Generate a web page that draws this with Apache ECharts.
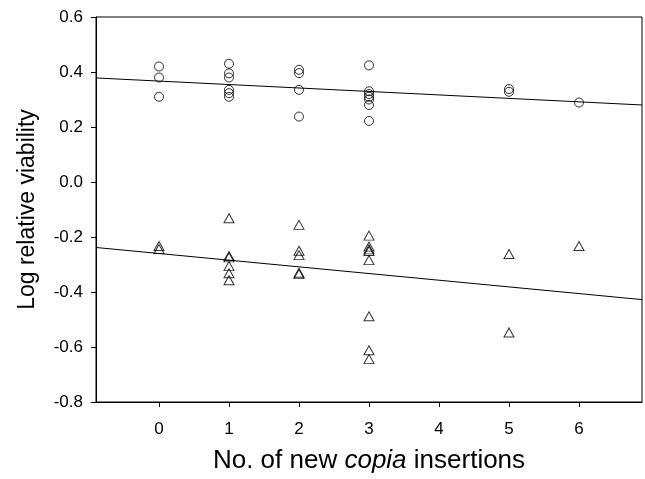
<!DOCTYPE html>
<html>
<head>
<meta charset="utf-8">
<script src="https://cdn.jsdelivr.net/npm/echarts@6/dist/echarts.min.js"></script>
<style>
html,body{margin:0;padding:0;background:#fff;}
#c{width:645px;height:479px;}
</style>
</head>
<body>
<div id="c"></div>
<script>
// Circles (upper group)
var circleX = [0,0,0, 1,1,1,1,1,1, 2,2,2,2, 3,3,3,3,3,3,3, 5,5, 6];
var circleY = [0.42,0.38,0.31, 0.43,0.395,0.38,0.335,0.323,0.31, 0.408,0.396,0.335,0.238, 0.424,0.33,0.32,0.31,0.30,0.28,0.222, 0.338,0.328, 0.289];
// Triangles (lower group)
var triX = [0,0, 1,1,1,1,1,1, 2,2,2,2,2, 3,3,3,3,3,3,3,3, 5,5, 6];
var triY = [-0.233,-0.244, -0.132,-0.269,-0.274,-0.306,-0.332,-0.357, -0.156,-0.25,-0.266,-0.33,-0.335, -0.195,-0.235,-0.245,-0.251,-0.284,-0.488,-0.612,-0.644, -0.262,-0.547, -0.233];
// Regression lines: [intercept, slope]
var circleFit = [0.367, -0.0126];
var triFit = [-0.260, -0.0243];
// Axes
var xRange = [-0.9, 6.9];
var xTicks = [0,1,2,3,4,5,6];
var yRange = [-0.8, 0.6];
var yStep = 0.2;

function pairs(xs, ys){ return xs.map(function(x,i){ return [x, ys[i]]; }); }
function fitLine(f){ return xRange.map(function(x){ return [x, f[0] + f[1]*x]; }); }

var font = 'Liberation Sans, Arial, sans-serif';
var chart = echarts.init(document.getElementById('c'), null, {renderer:'canvas'});
chart.setOption({
  backgroundColor:'#fff',
  animation:false,
  grid:{left:96, right:3, top:17, bottom:77, show:true, borderColor:'#000', borderWidth:1, backgroundColor:'transparent'},
  xAxis:{
    type:'value', min:xRange[0], max:xRange[1],
    axisLine:{show:true, onZero:false, lineStyle:{color:'#000', width:1}},
    axisTick:{show:true, inside:false, length:5, customValues:xTicks, lineStyle:{color:'#000'}},
    axisLabel:{customValues:xTicks, color:'#000', fontSize:17, fontFamily:font, margin:19},
    splitLine:{show:false},
    name:'{a|No. of new }{b|copia}{a| insertions}',
    nameLocation:'middle', nameGap:46,
    nameTextStyle:{rich:{a:{fontSize:26, fontFamily:font, color:'#000'}, b:{fontSize:26, fontFamily:font, fontStyle:'italic', color:'#000'}}}
  },
  yAxis:{
    type:'value', min:yRange[0], max:yRange[1], interval:yStep,
    axisLine:{show:true, onZero:false, lineStyle:{color:'#000', width:1}},
    axisTick:{show:true, inside:false, length:5, lineStyle:{color:'#000'}},
    axisLabel:{color:'#000', fontSize:17, fontFamily:font, margin:13, formatter:function(v){ return v.toFixed(1); }},
    splitLine:{show:false},
    name:'Log relative viability', nameLocation:'middle', nameGap:57,
    nameTextStyle:{fontSize:23, fontFamily:font, color:'#000'}
  },
  series:[
    {type:'line', data:fitLine(circleFit), symbol:'none', lineStyle:{color:'#000', width:1}, silent:true},
    {type:'line', data:fitLine(triFit), symbol:'none', lineStyle:{color:'#000', width:1}, silent:true},
    {type:'scatter', data:pairs(circleX, circleY), symbol:'circle', symbolSize:9,
      itemStyle:{color:'rgba(255,255,255,0)', borderColor:'#000', borderWidth:1}},
    {type:'scatter', data:pairs(triX, triY), symbol:'triangle', symbolSize:[10,9],
      itemStyle:{color:'rgba(255,255,255,0)', borderColor:'#000', borderWidth:1}}
  ]
});
</script>
</body>
</html>
